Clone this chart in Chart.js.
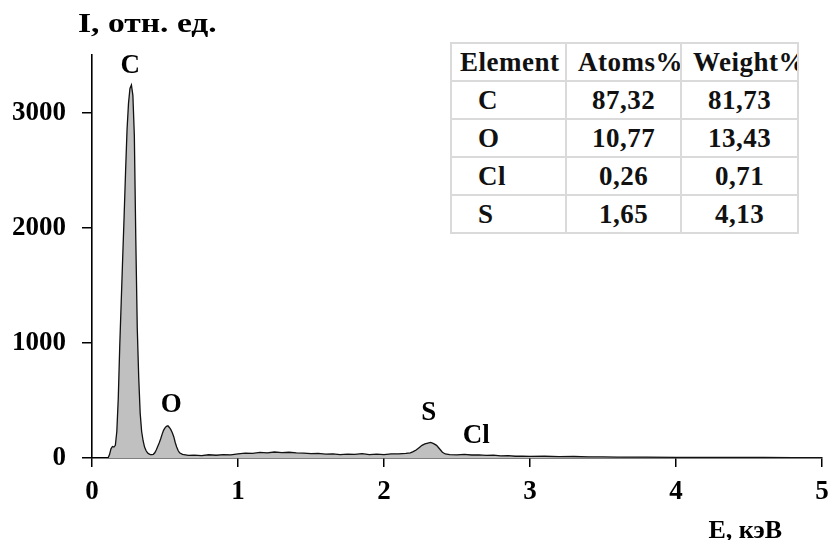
<!DOCTYPE html>
<html>
<head>
<meta charset="utf-8">
<script src="https://cdn.jsdelivr.net/npm/chart.js@4"></script>
<style>
  html, body { margin: 0; padding: 0; background: #fff; }
  #wrap { position: relative; width: 829px; height: 540px; }
  #wrap canvas { position: absolute; left: 0; top: 0; }
  table.eds {
    position: absolute; left: 450px; top: 42px; width: 347px;
    border-collapse: collapse; table-layout: fixed; background: #fff;
    font: bold 27px "Liberation Serif", "Times New Roman", serif; color: #111;
    letter-spacing: 0.5px;
  }
  table.eds td {
    box-sizing: border-box;
    border: 2px solid #dadada; height: 38px; padding: 0;
    overflow: hidden; white-space: nowrap; line-height: 36px;
  }
  table.eds td.el { padding-left: 26px; }
  table.eds td.num { text-align: center; }
  table.eds tr.head td { padding-left: 8px; }
  table.eds tr.head td + td { padding-left: 11px; }
</style>
</head>
<body>
<div id="wrap">
  <canvas id="myChart" width="829" height="540"></canvas>
  <table class="eds" id="edsTable">
    <colgroup><col style="width:115px"><col style="width:115px"><col style="width:117px"></colgroup>
  </table>
</div>
<script>
// SPECTRUM DATA (keV / counts)
var energy = [0.11, 0.12, 0.13, 0.14, 0.15, 0.16, 0.17, 0.18, 0.19, 0.20,
  0.21, 0.22, 0.23, 0.24, 0.25, 0.26, 0.27, 0.28, 0.29, 0.30,
  0.31, 0.32, 0.33, 0.34, 0.35, 0.36, 0.37, 0.38, 0.39, 0.40,
  0.41, 0.42, 0.43, 0.44, 0.45, 0.46, 0.47, 0.48, 0.49, 0.50,
  0.51, 0.52, 0.53, 0.54, 0.55, 0.56, 0.57, 0.58, 0.59, 0.60,
  0.62, 0.64, 0.66, 0.70, 0.75, 0.80, 0.85, 0.90, 0.95, 1.00,
  1.05, 1.10, 1.15, 1.20, 1.25, 1.30, 1.35, 1.40, 1.45, 1.50,
  1.55, 1.60, 1.65, 1.70, 1.75, 1.80, 1.85, 1.90, 1.95, 2.00,
  2.05, 2.10, 2.15, 2.18, 2.20, 2.22, 2.24, 2.26, 2.28, 2.30,
  2.32, 2.34, 2.36, 2.38, 2.40, 2.42, 2.45, 2.50, 2.55, 2.60,
  2.65, 2.70, 2.75, 2.80, 2.85, 2.90, 2.95, 3.00, 3.10, 3.20,
  3.30, 3.40, 3.50, 3.60, 3.80, 4.00, 4.20, 4.40, 4.60, 4.80, 5.00];
var counts = [0, 30, 80, 100, 95, 110, 230, 520, 970, 1350,
  1730, 2100, 2490, 2850, 3080, 3210, 3240, 3150, 2800, 1900,
  1130, 700, 390, 230, 150, 95, 65, 45, 35, 30,
  30, 32, 45, 70, 100, 130, 165, 205, 240, 262,
  275, 280, 265, 246, 220, 185, 135, 95, 65, 45,
  32, 28, 22, 25, 20, 28, 24, 30, 28, 35,
  42, 40, 48, 45, 52, 46, 50, 44, 42, 38,
  40, 33, 36, 30, 34, 32, 38, 30, 34, 30,
  36, 35, 40, 45, 55, 70, 90, 110, 122, 130,
  135, 125, 110, 80, 50, 35, 30, 28, 32, 26,
  28, 22, 25, 18, 20, 15, 17, 14, 15, 12,
  13, 10, 9, 8, 7, 6, 6, 5, 5, 4, 4];

var yTicks = [0, 1000, 2000, 3000];

// PEAK LABELS (placed in data units)
var peakNames = ['C', 'O', 'S', 'Cl'];
var peakE = [0.262, 0.543, 2.307, 2.632];
var peakI = [3400, 462, 393, 193];

// COMPOSITION TABLE
var tableHead = ['Element', 'Atoms%', 'Weight%'];
var elements = ['C', 'O', 'Cl', 'S'];
var atomsPct = ['87,32', '10,77', '0,26', '1,65'];
var weightPct = ['81,73', '13,43', '0,71', '4,13'];

var yTitle = 'I, отн. ед.';
var xTitle = 'E, кэВ';

// build table
var table = document.getElementById('edsTable');
var head = document.createElement('tr');
head.className = 'head';
tableHead.forEach(function(h) {
  var td = document.createElement('td');
  td.textContent = h;
  head.appendChild(td);
});
table.appendChild(head);
elements.forEach(function(el, i) {
  var tr = document.createElement('tr');
  [el, atomsPct[i], weightPct[i]].forEach(function(v, j) {
    var td = document.createElement('td');
    td.className = j === 0 ? 'el' : 'num';
    td.textContent = v;
    tr.appendChild(td);
  });
  table.appendChild(tr);
});

// CHART
var serif = '"Liberation Serif", "Times New Roman", serif';

var textLabels = {
  id: 'textLabels',
  afterDraw: function(chart) {
    var ctx = chart.ctx, x = chart.scales.x, y = chart.scales.y, area = chart.chartArea;
    ctx.save();
    ctx.fillStyle = '#000';
    ctx.font = 'bold 27px ' + serif;
    ctx.textAlign = 'center';
    ctx.textBaseline = 'middle';
    peakNames.forEach(function(n, i) {
      ctx.fillText(n, x.getPixelForValue(peakE[i]), y.getPixelForValue(peakI[i]));
    });
    // y title, a bit wider like the original
    ctx.font = 'bold 28px ' + serif;
    ctx.textBaseline = 'alphabetic';
    ctx.textAlign = 'left';
    ctx.save();
    ctx.translate(area.left - 14, 32);
    ctx.scale(1.2, 1);
    ctx.fillText(yTitle, 0, 0);
    ctx.restore();
    ctx.font = 'bold 26px ' + serif;
    ctx.textAlign = 'right';
    ctx.fillText(xTitle, 782, 538);
    ctx.restore();
  }
};

var tickFont = { family: serif, size: 27, weight: 'bold' };

var ctx = document.getElementById('myChart').getContext('2d');
var chart = new Chart(ctx, {
  type: 'line',
  data: {
    datasets: [{
      data: energy.map(function(e, i) { return { x: e, y: counts[i] }; }),
      borderColor: '#111',
      borderWidth: 1.3,
      backgroundColor: '#c0c0c0',
      fill: 'origin',
      pointRadius: 0,
      tension: 0
    }]
  },
  options: {
    responsive: false,
    animation: false,
    layout: { padding: { top: 55, right: 0, left: 0, bottom: 0 } },
    plugins: { legend: { display: false }, tooltip: { enabled: false } },
    scales: {
      x: {
        type: 'linear', min: 0, max: 5,
        ticks: { stepSize: 1, font: tickFont, color: '#000', padding: 9, maxRotation: 0 },
        grid: { drawOnChartArea: false, tickLength: 9, color: '#000', lineWidth: 1.5 },
        border: { color: '#000', width: 1.6 },
        afterFit: function(s) { s.height = 82; s.paddingRight = 7; }
      },
      y: {
        min: 0, max: 3500,
        afterBuildTicks: function(s) { s.ticks = yTicks.map(function(v) { return { value: v }; }); },
        ticks: { font: tickFont, color: '#000', padding: 16, callback: function(v) { return String(v); } },
        grid: { drawOnChartArea: false, tickLength: 10, color: '#000', lineWidth: 1.5 },
        border: { color: '#000', width: 1.6 },
        afterFit: function(s) { s.width = 92; }
      }
    }
  },
  plugins: [textLabels]
});
</script>
</body>
</html>
